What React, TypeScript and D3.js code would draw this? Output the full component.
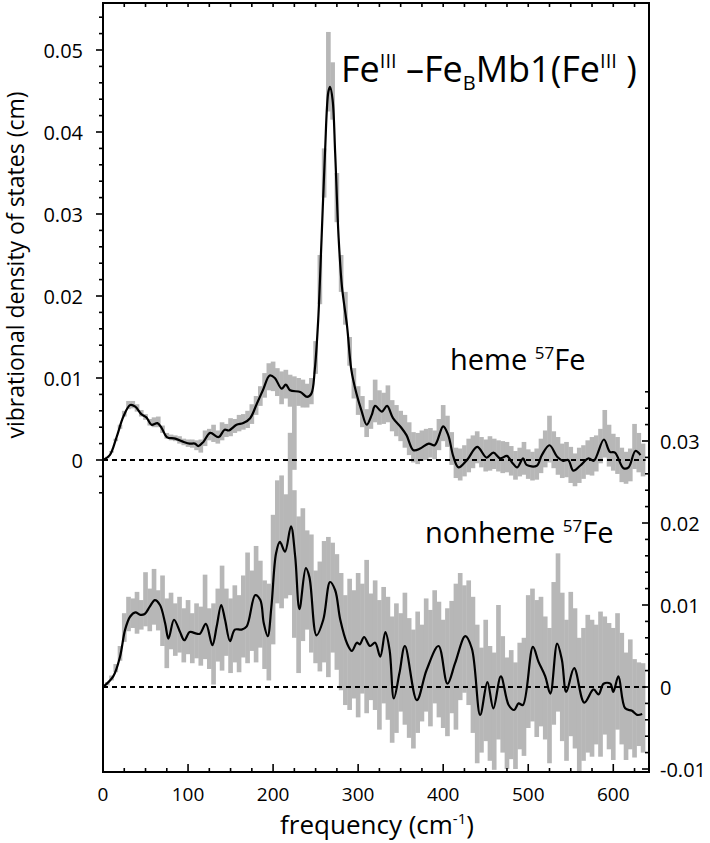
import React from 'react';
import * as d3 from 'd3';

// values are in units of 1e-3 cm (axis labels show cm)
const GRID_STEP = 5; // cm-1 spacing of the raw (grey) data
const hemeLo = [0,0.2,0.9,2.3,3.8,5.3,6.2,6.3,5.9,5.3,4.9,4.2,4.0,4.0,3.3,2.6,2.4,2.3,2.0,1.8,1.6,1.5,1.2,0.9,1.7,2.4,2.2,2.0,2.4,2.8,2.9,3.3,3.5,3.7,3.9,4.4,5.5,6.6,7.6,8.5,8.4,7.8,6.8,7.5,6.5,-1.2,6.6,6.4,6.4,6.8,10.5,19,32,42.5,41.5,29,20.5,16.5,11.5,7.5,5.5,4.0,2.8,3.8,4.6,4.3,4.4,4.6,3.5,2.9,2.3,1.5,0.6,-0.3,-0.5,-0.1,0.0,0.3,0.1,1.2,2.3,1.6,-0.6,-2.2,-2.5,-2.0,-1.5,-1.0,-0.4,-0.9,-1.4,-1.3,-1.1,-1.4,-1.6,-1.5,-1.9,-2.4,-2.0,-1.8,-2.3,-2.5,-2.4,-1.6,-0.9,-0.3,-1.0,-1.8,-2.2,-2.1,-2.8,-3.2,-2.8,-2.3,-1.8,-1.9,-1.4,-0.4,0.3,-0.8,-1.3,-1.7,-2.7,-2.9,-2.6,-1.1,-1.5,-2.0];
const hemeHi = [0,0.4,1.1,2.6,4.3,6.0,7.2,7.2,6.8,6.1,5.6,5.0,5.2,5.3,4.2,3.3,3.1,3.0,2.9,2.6,2.5,2.5,2.4,2.5,3.6,3.8,4.3,3.6,4.6,4.4,5.1,5.0,5.5,5.6,6.0,6.8,7.8,9.0,10.6,11.8,12.0,11.2,10.8,11.0,10.4,10.2,10.0,9.8,9.3,10.0,14.5,25,38,52.2,48.5,35,25,20.5,15,11.2,9.0,7.8,6.2,7.3,9.8,8.5,8.2,9.1,7.3,6.7,6.0,5.5,4.6,3.4,3.3,3.6,3.8,3.9,3.6,5.0,6.7,5.4,3.4,1.5,1.4,1.8,2.6,3.0,3.5,2.8,2.5,2.9,2.6,2.4,2.3,2.2,1.7,1.1,1.5,2.2,1.3,1.0,1.4,2.6,3.6,5.4,3.5,2.8,2.0,2.2,1.6,0.8,1.5,1.8,2.4,2.8,3.0,3.8,6.1,4.3,3.2,2.8,1.5,1.0,1.4,4.4,3.3,2.0];
const nonLo = [0,0.2,0.8,1.8,3.2,5.5,6.8,7.2,6.5,7.0,7.4,6.8,7.6,6.9,5.0,2.3,4.6,3.8,4.2,3.0,4.0,2.9,3.5,2.6,3.4,2.2,0.3,3.1,2.0,3.8,1.7,3.0,1.8,3.6,2.9,4.4,3.0,4.8,2.2,0.8,5.2,10.2,9.6,10.8,11.2,6.0,1.7,5.6,7.0,4.2,2.9,1.9,3.0,1.2,4.2,2.1,-0.4,-2.2,-2.8,-1.4,-3.7,-0.8,-3.2,-1.6,-2.8,-5.2,-2.0,-4.0,-6.8,-5.6,-3.0,-4.6,-6.2,-7.5,-5.6,-4.2,-3.0,-4.8,-2.0,-3.7,-5.0,-6.0,-3.2,-5.2,-1.6,-0.7,-2.2,-5.6,-9.3,-8.0,-6.6,-9.0,-10.1,-6.4,-8.0,-10.0,-8.8,-10.0,-7.6,-8.4,-5.0,-4.2,-6.1,-4.8,-6.4,-9.3,-4.6,-3.0,-6.6,-9.0,-6.0,-7.5,-10.5,-9.0,-8.0,-8.5,-7.0,-8.5,-5.8,-7.6,-8.9,-5.2,-7.0,-8.9,-7.6,-8.6,-7.2,-8.0];
const nonHi = [0,0.6,1.4,2.8,5.0,9.0,11.0,10.8,11.6,10.6,14.0,12.0,14.4,11.8,13.6,10.8,11.5,10.2,11.0,9.6,10.6,9.0,10.2,9.8,13.7,9.6,10.2,12.0,14.8,12.0,10.8,12.4,11.2,13.6,16.4,14.2,17.2,15.4,13.0,12.6,21.0,25.2,25.8,23.5,31.0,24.0,20.8,21.8,19.1,18.6,14.2,15.3,17.8,18.3,17.6,16.2,13.9,11.2,13.2,11.8,13.9,12.6,15.5,11.4,13.0,10.6,12.2,11.0,8.6,10.2,9.0,11.5,8.4,7.0,9.2,7.6,10.8,9.4,11.8,10.4,8.2,9.6,10.5,12.6,13.9,12.4,13.0,11.0,7.6,4.8,8.2,5.0,4.2,10.0,6.2,3.6,4.5,3.0,5.4,6.0,11.2,12.0,10.6,11.0,8.6,7.2,12.8,16.3,11.5,8.2,11.6,9.6,6.0,7.2,8.8,8.2,7.6,9.2,8.6,7.8,7.2,9.0,6.6,4.2,5.8,3.4,3.0,2.9];

// smoothed curves (black)
const hemeFreq = [0,8,16,24,32,38,45,51,57,64,69,75,85,95,102,108,112,118,126,136,143,148,157,165,173,181,188,196,202,210,215,220,232,240,245,249,253,257,261,265,267,270,273,277,281,287,292,298,304,310,316,320,328,334,341,351,357,365,373,383,390,400,406,412,418,428,440,451,459,467,475,481,487,494,498,510,516,525,534,541,547,553,561,571,577,589,596,602,612,618,626,632];
const hemeDos = [0,0.6,2.8,5.3,6.7,6.5,5.6,5.2,4.3,4.5,3.9,2.8,2.6,2.2,2.0,2.0,1.7,2.2,3.3,2.8,3.7,3.6,4.3,4.5,5.1,6.9,8.5,10.3,10.0,8.7,9.2,8.5,8.3,7.7,8.1,11,17,27,37.4,44.9,45.5,43.9,37.4,27.2,21.1,16.3,11,8.1,6.0,4.3,5.5,6.6,5.9,6.6,5.1,3.9,3.0,1.2,1.4,2.0,1.8,4.1,3.0,0.4,-0.9,0,1.6,0.3,0.9,0.2,0.5,-0.3,-0.9,0.2,-0.6,-0.7,0.6,1.8,0.4,-0.1,0,-1.3,-0.7,0.2,-0.1,2.5,1.0,0.9,-1.0,-0.9,1.1,0.6];
const nonFreq = [0,12,20,26,32,38,44,49,55,61,67,73,77,83.5,90.6,95.6,102,110,114,121,128.6,133.7,139,143.5,149.4,155,163,169,179,185,189,193.7,198,203.5,208,214,221,226,231,238.5,242.7,251,259,267,273,279,287,292.6,298.5,302,307,314,320,326,332,337,342,348.6,355,369,380.6,394.5,405,414,426,433.7,443.5,452,459,467.8,477,483.5,488.6,493.7,505.5,512,520,526,534,539.6,544.7,554,565.9,576.8,582.7,588.6,596.5,600,606,614,622,628,634];
const nonDos = [0,1.3,3.7,7.0,8.6,9.1,8.8,8.9,9.8,10.6,10.0,7.8,5.9,8.2,6.7,5.7,6.7,6.5,6.5,7.7,5.1,7.4,10.0,8.2,5.6,7.0,7.0,7.4,11.2,10.6,7.8,6.2,9.8,16.3,17.7,16.5,19.6,15.9,9.5,14.5,13.4,6.3,8.2,12.8,11.8,8.2,5.3,4.4,5.4,5.2,6.1,5.0,5.4,3.7,6.7,4.5,-1.4,1.7,5.0,-1.6,2.1,5.0,0.4,2.9,6.2,4.7,-3.4,0.6,-2.6,1.3,-2.2,-2.8,-2.0,-2.2,4.9,3.1,1.3,-0.8,5.3,3.3,-0.6,2.3,-1.9,-0.3,-0.9,0.4,0.4,-0.6,1.3,-2.6,-2.9,-3.4,-3.3];

const xTicks = [0, 100, 200, 300, 400, 500, 600];
const leftTicks = [0, 10, 20, 30, 40, 50];
const leftLabels = ['0', '0.01', '0.02', '0.03', '0.04', '0.05'];
const rightTicks = [-10, 0, 10, 20, 30];
const rightLabels = ['-0.01', '0', '0.01', '0.02', '0.03'];

const FONT = '"Open Sans", "Noto Sans", sans-serif';
const L = 103, R = 649, T = 3, B = 772;

export default function App() {
  const x = d3.scaleLinear().domain([0, 642]).range([L, R]);
  const yH = d3.scaleLinear().domain([0, 50]).range([460, 50]);
  const yN = d3.scaleLinear().domain([0, 30]).range([687, 441]);
  const barW = x(GRID_STEP) - x(0) + 0.4;

  const lineH = d3.line<number>().x((d, i) => x(hemeFreq[i])).y((d) => yH(d)).curve(d3.curveCatmullRom.alpha(0.5));
  const lineN = d3.line<number>().x((d, i) => x(nonFreq[i])).y((d) => yN(d)).curve(d3.curveCatmullRom.alpha(0.5));

  const xMinor = d3.range(0, 642, 25);
  const leftMinor = d3.range(-4, 55, 2);
  const rightMinor = d3.range(-10, 37, 2);

  return (
    <svg width={710} height={843} style={{ position: 'absolute', left: 0, top: 0, background: '#fff' }} fontFamily={FONT}>
      <defs>
        <clipPath id="plot"><rect x={L} y={T} width={R - L} height={B - T} /></clipPath>
      </defs>
      <g clipPath="url(#plot)">
        <g fill="#b7b7b7">
          {hemeLo.map((lo, i) => (
            <rect key={'h' + i} x={x(i * GRID_STEP) - barW / 2} width={barW} y={yH(hemeHi[i])} height={Math.max(0.8, yH(lo) - yH(hemeHi[i]))} />
          ))}
          {nonLo.map((lo, i) => (
            <rect key={'n' + i} x={x(i * GRID_STEP) - barW / 2} width={barW} y={yN(nonHi[i])} height={Math.max(0.8, yN(lo) - yN(nonHi[i]))} />
          ))}
        </g>
        <line x1={L} x2={x(638)} y1={yH(0)} y2={yH(0)} stroke="#000" strokeWidth={2} strokeDasharray="5,4" />
        <line x1={L} x2={x(638)} y1={yN(0)} y2={yN(0)} stroke="#000" strokeWidth={2} strokeDasharray="5,4" />
        <path d={lineH(hemeDos) || ''} fill="none" stroke="#000" strokeWidth={2.2} />
        <path d={lineN(nonDos) || ''} fill="none" stroke="#000" strokeWidth={2.2} />
      </g>

      {/* frame */}
      <rect x={L} y={T} width={R - L} height={B - T} fill="none" stroke="#000" strokeWidth={2} />

      {/* x ticks bottom and top */}
      {xMinor.map((v) => {
        const major = v % 100 === 0;
        return (
          <g key={'xt' + v} stroke="#000" strokeWidth={1.6}>
            <line x1={x(v)} x2={x(v)} y1={B} y2={B - (major ? 8 : 4)} />
            <line x1={x(v)} x2={x(v)} y1={T} y2={T + 4} />
          </g>
        );
      })}
      {xTicks.map((v) => (
        <text key={'xl' + v} x={x(v)} y={801} fontSize={19} textAnchor="middle">{v}</text>
      ))}
      <text x={377} y={834} fontSize={26} textAnchor="middle">
        frequency (cm<tspan dy={-10} fontSize={15}>-1</tspan><tspan dy={10}>)</tspan>
      </text>

      {/* left axis (heme) */}
      {leftMinor.map((v) => {
        const major = v % 10 === 0;
        return <line key={'lt' + v} x1={L} x2={L - (major ? 7 : 4)} y1={yH(v)} y2={yH(v)} stroke="#000" strokeWidth={1.6} />;
      })}
      {leftTicks.map((v, i) => (
        <text key={'ll' + v} x={83} y={yH(v) + 8} fontSize={20} textAnchor="end">{leftLabels[i]}</text>
      ))}
      <text transform="translate(24,265) rotate(-90)" fontSize={23} textAnchor="middle">
        vibrational density of states (cm)
      </text>

      {/* right axis (nonheme) */}
      {rightMinor.map((v) => {
        const major = v % 10 === 0;
        return <line key={'rt' + v} x1={R} x2={R - (major ? 7 : 4)} y1={yN(v)} y2={yN(v)} stroke="#000" strokeWidth={1.6} />;
      })}
      {rightTicks.map((v, i) => (
        <text key={'rl' + v} x={660} y={yN(v) + 8} fontSize={20}>{rightLabels[i]}</text>
      ))}

      {/* labels */}
      <text x={341} y={82} fontSize={36}>
        Fe<tspan dy={-14} fontSize={20}>III</tspan><tspan dy={14}> –Fe</tspan><tspan dy={8} fontSize={20}>B</tspan><tspan dy={-8}>Mb1(Fe</tspan><tspan dy={-14} fontSize={20}>III</tspan><tspan dy={14}> )</tspan>
      </text>
      <text x={450} y={370} fontSize={29}>
        heme <tspan dy={-11} fontSize={17}>57</tspan><tspan dy={11}>Fe</tspan>
      </text>
      <text x={425} y={543} fontSize={29}>
        nonheme <tspan dy={-11} fontSize={17}>57</tspan><tspan dy={11}>Fe</tspan>
      </text>
    </svg>
  );
}
